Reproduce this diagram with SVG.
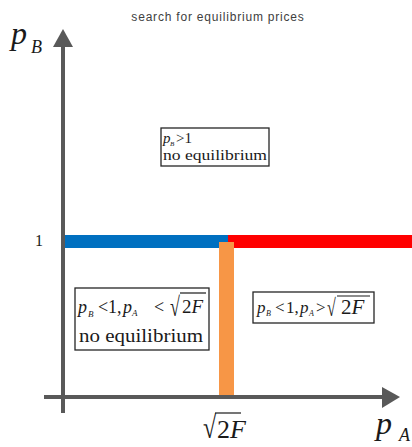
<svg xmlns="http://www.w3.org/2000/svg" width="412" height="447" viewBox="0 0 412 447">
<style>
.ax{stroke:#595959;stroke-width:4;fill:none}
.ah{fill:#595959}
.box{fill:#fff;stroke:#262626;stroke-width:1.3}
.m{font-family:"Liberation Serif","Times New Roman",serif;fill:#1a1a1a}
.i{font-style:italic}
.t{font-family:"Liberation Sans",Arial,sans-serif;font-size:12px;letter-spacing:0.8px;fill:#404040}
.vin{stroke:#1a1a1a;stroke-width:1.2}
</style>
<rect width="412" height="447" fill="#fff"/>
<text id="title" class="t" x="218" y="21" text-anchor="middle">search for equilibrium prices</text>

<g id="lines">
  <rect x="64" y="235" width="164" height="13" fill="#0070C0"/>
  <rect x="228" y="235" width="184" height="13" fill="#FF0000"/>
  <rect x="219" y="242" width="15" height="153" fill="#F79646"/>
</g>

<g id="axes">
  <line class="ax" x1="63" y1="45" x2="63" y2="413"/>
  <polygon class="ah" points="63,29 53,47 73,47"/>
  <line class="ax" x1="44" y1="397" x2="384" y2="397"/>
  <polygon class="ah" points="400,397 382,387 382,408"/>
</g>

<g id="axis-labels">
  <text class="m i" x="11" y="44" font-size="32">p</text>
  <text class="m i" x="31" y="53" font-size="18">B</text>
  <text class="m i" x="376" y="434" font-size="32">p</text>
  <text class="m i" x="399" y="441" font-size="18">A</text>
  <text class="m" x="35" y="246" font-size="16">1</text>
  <text class="m" font-size="24" transform="translate(203,438) scale(1,1.3)">√</text>
  <line class="vin" x1="215" y1="413" x2="241" y2="413" stroke-width="1.5"/>
  <text class="m" x="217" y="438" font-size="26">2<tspan class="i">F</tspan></text>
</g>

<g id="box-top">
  <rect class="box" x="161" y="128" width="108" height="38"/>
  <text class="m i" x="163" y="143" font-size="15">p</text>
  <text class="m i" x="170" y="146" font-size="7">B</text>
  <text class="m" x="176" y="143" font-size="15">&gt;1</text>
  <text class="m" x="163" y="160" font-size="15" textLength="104" lengthAdjust="spacingAndGlyphs">no equilibrium</text>
</g>

<g id="box-left">
  <rect class="box" x="75" y="288" width="134" height="62"/>
  <text class="m i" x="78" y="313" font-size="18">p</text>
  <text class="m i" x="88" y="317" font-size="9">B</text>
  <text class="m" x="98" y="313" font-size="18">&lt;</text>
  <text class="m" x="108" y="313" font-size="18">1,</text>
  <text class="m i" x="123" y="313" font-size="18">p</text>
  <text class="m i" x="132" y="316" font-size="9">A</text>
  <text class="m" x="154" y="313" font-size="18">&lt;</text>
  <text class="m" font-size="18" transform="translate(170,316) scale(1,1.5)">√</text>
  <line class="vin" x1="180" y1="293" x2="206" y2="293"/>
  <text class="m" x="182" y="313" font-size="19">2<tspan class="i">F</tspan></text>
  <text class="m" x="79" y="342" font-size="18" textLength="124" lengthAdjust="spacingAndGlyphs">no equilibrium</text>
</g>

<g id="box-right">
  <rect class="box" x="253" y="292" width="121" height="31"/>
  <text class="m i" x="257" y="313" font-size="17">p</text>
  <text class="m i" x="266" y="316" font-size="8">B</text>
  <text class="m" x="275" y="313" font-size="17">&lt;</text>
  <text class="m" x="286" y="313" font-size="17">1,</text>
  <text class="m i" x="300" y="313" font-size="17">p</text>
  <text class="m i" x="309" y="316" font-size="8">A</text>
  <text class="m" x="316" y="313" font-size="17">&gt;</text>
  <text class="m" font-size="16" transform="translate(327,316) scale(1,1.5)">√</text>
  <line class="vin" x1="337" y1="296" x2="370" y2="296"/>
  <text class="m" x="341" y="314" font-size="21">2<tspan class="i">F</tspan></text>
</g>
</svg>
